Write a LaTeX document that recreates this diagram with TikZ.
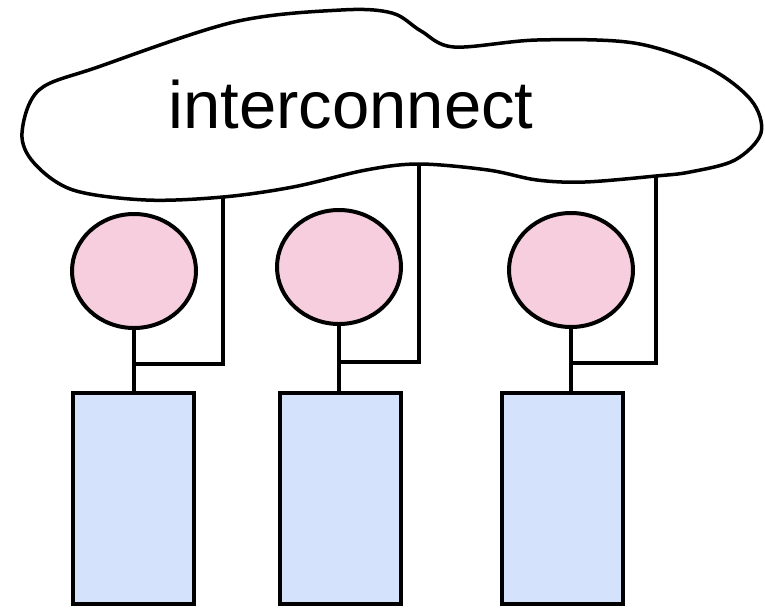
\documentclass[tikz,border=0pt]{standalone}
\usepackage{fontspec}
\setmainfont{Liberation Sans}
\usetikzlibrary{shapes.geometric,calc}
\definecolor{pepink}{RGB}{246,206,221}
\definecolor{memblue}{RGB}{212,226,251}

\begin{document}
\begin{tikzpicture}[x=1pt, y=-1pt, line width=4pt,
    proc/.style={ellipse, draw, fill=pepink, inner sep=0pt, minimum width=124, minimum height=114},
    mem/.style={rectangle, draw, fill=memblue, inner sep=0pt, minimum width=121, minimum height=211}]
    \useasboundingbox (0,0) rectangle (765,611);

    % interconnect cloud
    \draw[line width=3.5pt] plot[smooth cycle, tension=0.55] coordinates {
        (22,133) (39,90) (98,67) (234,22) (341,10) (392,13) (421,31) (454,47)
        (537,40) (634,43) (707,67) (751,100) (761,133) (735,160) (690,172)
        (656,176) (585,182) (537,180) (488,170) (419,164) (366,170) (293,187)
        (223,197) (146,200) (73,190) (34,163)};
    \node[anchor=base] (net) at (351,128) {\fontsize{67}{67}\selectfont interconnect};
    \coordinate (tap1) at (223,197);
    \coordinate (tap2) at (419,164);
    \coordinate (tap3) at (656,176);

    % processors
    \node[proc] (p1) at (134,271) {};
    \node[proc] (p2) at (339,267) {};
    \node[proc] (p3) at (571,270) {};

    % memories
    \node[mem] (m1) at (133.5,498.5) {};
    \node[mem] (m2) at (340.5,498.5) {};
    \node[mem] (m3) at (562.5,498.5) {};

    \draw (p1.south) -- (p1.south |- m1.north);
    \draw (p2.south) -- (p2.south |- m2.north);
    \draw (p3.south) -- (p3.south |- m3.north);

    \draw (tap1) |- ($(p1.south)!0.55!(p1.south |- m1.north)$);
    \draw (tap2) |- ($(p2.south)!0.55!(p2.south |- m2.north)$);
    \draw (tap3) |- ($(p3.south)!0.55!(p3.south |- m3.north)$);
\end{tikzpicture}
\end{document}
